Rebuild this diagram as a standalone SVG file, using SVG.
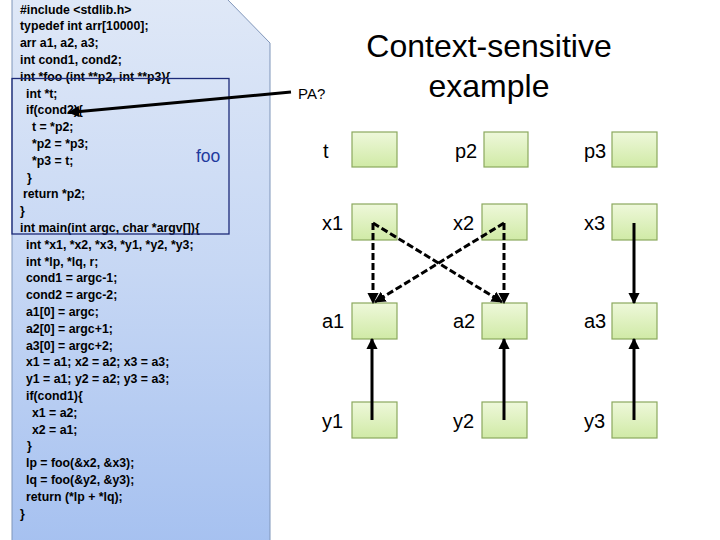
<svg xmlns="http://www.w3.org/2000/svg" width="720" height="540" viewBox="0 0 720 540">
<defs>
<linearGradient id="panelGrad" x1="0" y1="0" x2="0" y2="1">
<stop offset="0" stop-color="#dfe8f7"/>
<stop offset="0.5" stop-color="#c6d7f4"/>
<stop offset="1" stop-color="#a6c1f0"/>
</linearGradient>
<linearGradient id="boxGrad" x1="0" y1="0" x2="0" y2="1">
<stop offset="0" stop-color="#eef8da"/>
<stop offset="1" stop-color="#d0eaa6"/>
</linearGradient>
<marker id="ah" viewBox="0 0 10 10" refX="9" refY="5" markerWidth="3.8" markerHeight="3.8" orient="auto" markerUnits="strokeWidth">
<path d="M0,0 L10,5 L0,10 Z" fill="#000"/>
</marker>
</defs>
<style>
.code{font-family:"Liberation Sans",Arial,sans-serif;font-weight:bold;font-size:12.3px;fill:#000}
.lbl{font-family:"Liberation Sans",Arial,sans-serif;font-size:20px;fill:#000}
.box{fill:url(#boxGrad);stroke:#8ba85e;stroke-width:1.2}
.conn{stroke:#000;stroke-width:3;fill:none;marker-end:url(#ah)}
.dash{stroke-dasharray:7 3}
</style>
<rect width="720" height="540" fill="#fff"/>

<g id="code-panel">
<path d="M12,-1 L227,-1 L270,43 L270,545 L12,545 Z" fill="url(#panelGrad)" stroke="#7f95b9" stroke-width="1"/>
<text class="code" x="20" y="13.5">#include &lt;stdlib.h&gt;</text>
<text class="code" x="20" y="30.3">typedef int arr[10000];</text>
<text class="code" x="20" y="47.1">arr a1, a2, a3;</text>
<text class="code" x="20" y="63.9">int cond1, cond2;</text>
<text class="code" x="20" y="80.7">int *foo (int **p2, int **p3){</text>
<text class="code" x="26" y="97.5">int *t;</text>
<text class="code" x="26" y="114.3">if(cond2){</text>
<text class="code" x="32" y="131.1">t = *p2;</text>
<text class="code" x="32" y="147.9">*p2 = *p3;</text>
<text class="code" x="32" y="164.7">*p3 = t;</text>
<text class="code" x="27" y="181.5">}</text>
<text class="code" x="23" y="198.3">return *p2;</text>
<text class="code" x="20" y="215.1">}</text>
<text class="code" x="20" y="231.9">int main(int argc, char *argv[]){</text>
<text class="code" x="26" y="248.7">int *x1, *x2, *x3, *y1, *y2, *y3;</text>
<text class="code" x="26" y="265.5">int *lp, *lq, r;</text>
<text class="code" x="26" y="282.3">cond1 = argc-1;</text>
<text class="code" x="26" y="299.1">cond2 = argc-2;</text>
<text class="code" x="26" y="315.9">a1[0] = argc;</text>
<text class="code" x="26" y="332.7">a2[0] = argc+1;</text>
<text class="code" x="26" y="349.5">a3[0] = argc+2;</text>
<text class="code" x="26" y="366.3">x1 = a1; x2 = a2; x3 = a3;</text>
<text class="code" x="26" y="383.1">y1 = a1; y2 = a2; y3 = a3;</text>
<text class="code" x="26" y="399.9">if(cond1){</text>
<text class="code" x="32" y="416.7">x1 = a2;</text>
<text class="code" x="32" y="433.5">x2 = a1;</text>
<text class="code" x="27" y="450.3">}</text>
<text class="code" x="26" y="467.1">lp = foo(&amp;x2, &amp;x3);</text>
<text class="code" x="26" y="483.9">lq = foo(&amp;y2, &amp;y3);</text>
<text class="code" x="26" y="500.7">return (*lp + *lq);</text>
<text class="code" x="20" y="517.5">}</text>
</g>

<g id="foo-box">
<rect x="12" y="78.5" width="217" height="155.5" fill="none" stroke="#1c2a78" stroke-width="1.3"/>
<text x="196" y="162" font-family="Liberation Sans, Arial, sans-serif" font-size="17.5" fill="#1f3b9e">foo</text>
</g>

<g id="title">
<text x="489" y="57" text-anchor="middle" font-family="Liberation Sans, Arial, sans-serif" font-size="32" fill="#000">Context-sensitive</text>
<text x="489" y="97" text-anchor="middle" font-family="Liberation Sans, Arial, sans-serif" font-size="32" fill="#000">example</text>
</g>

<g id="pa-label">
<text x="298" y="99" font-family="Liberation Sans, Arial, sans-serif" font-size="15" fill="#000">PA?</text>
</g>

<g id="node-t"><rect class="box" x="352" y="132" width="45" height="35"/><text class="lbl" x="323" y="158">t</text></g>
<g id="node-p2"><rect class="box" x="484" y="132" width="44" height="35"/><text class="lbl" x="455" y="158">p2</text></g>
<g id="node-p3"><rect class="box" x="612" y="132" width="45" height="35"/><text class="lbl" x="584" y="158">p3</text></g>

<g id="node-x1"><rect class="box" x="352" y="204" width="45" height="36"/><text class="lbl" x="322" y="230">x1</text></g>
<g id="node-x2"><rect class="box" x="482" y="204" width="45" height="36"/><text class="lbl" x="453" y="230">x2</text></g>
<g id="node-x3"><rect class="box" x="612" y="204" width="45" height="36"/><text class="lbl" x="584" y="230">x3</text></g>

<g id="node-a1"><rect class="box" x="352" y="303" width="45" height="36"/><text class="lbl" x="322" y="328">a1</text></g>
<g id="node-a2"><rect class="box" x="482" y="303" width="45" height="36"/><text class="lbl" x="453" y="328">a2</text></g>
<g id="node-a3"><rect class="box" x="612" y="303" width="45" height="36"/><text class="lbl" x="584" y="328">a3</text></g>

<g id="node-y1"><rect class="box" x="352" y="402" width="45" height="36"/><text class="lbl" x="322" y="428">y1</text></g>
<g id="node-y2"><rect class="box" x="482" y="402" width="45" height="36"/><text class="lbl" x="453" y="428">y2</text></g>
<g id="node-y3"><rect class="box" x="612" y="402" width="45" height="36"/><text class="lbl" x="584" y="428">y3</text></g>

<g id="connectors">
<line class="conn" x1="291" y1="92" x2="69" y2="112.5"/>
<line class="conn dash" x1="373" y1="223" x2="373" y2="303"/>
<line class="conn dash" x1="373" y1="223" x2="502" y2="302"/>
<line class="conn dash" x1="504" y1="223" x2="504" y2="303"/>
<line class="conn dash" x1="504" y1="223" x2="375" y2="302"/>
<line class="conn" x1="634" y1="223" x2="634" y2="303"/>
<line class="conn" x1="372" y1="420" x2="372" y2="339"/>
<line class="conn" x1="504" y1="420" x2="504" y2="339"/>
<line class="conn" x1="634" y1="420" x2="634" y2="339"/>
</g>
</svg>
